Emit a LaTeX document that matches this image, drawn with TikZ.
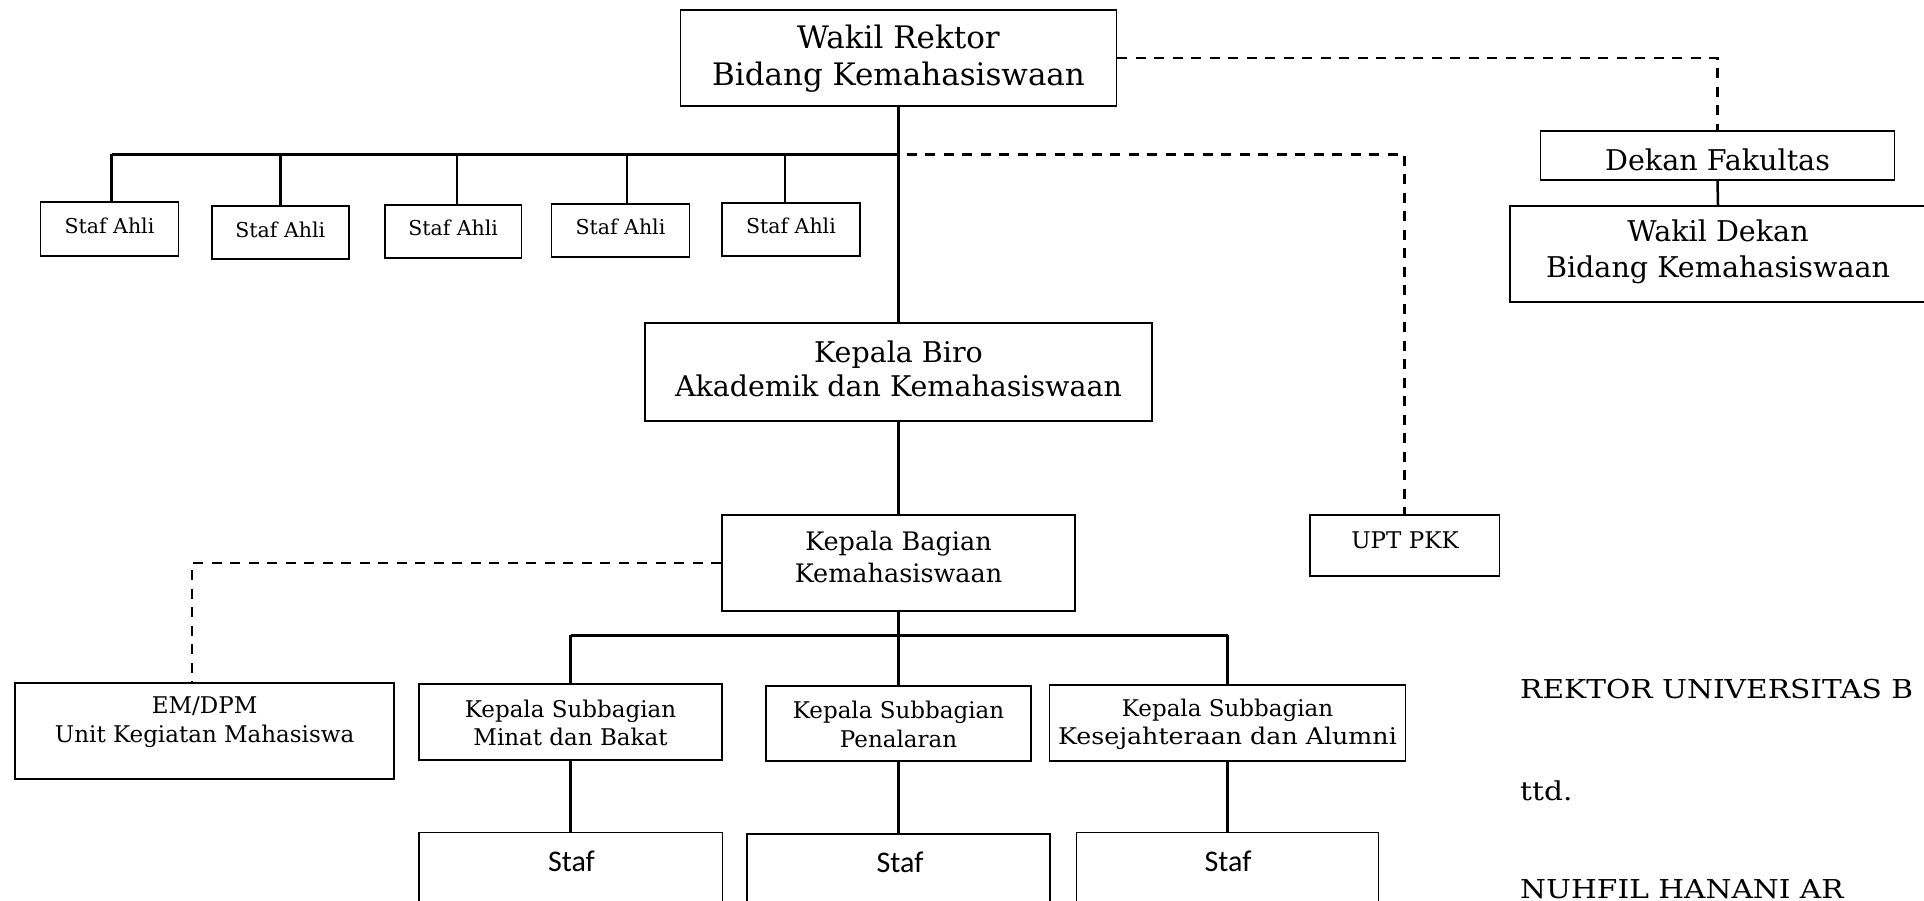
\documentclass[tikz,border=0pt]{standalone}
\usepackage{fontspec}
\setmainfont{DejaVu Serif}
\newfontfamily\stafont{Carlito}
\newfontfamily\widefont[FakeStretch=1.14]{DejaVu Serif}
\begin{document}
\begin{tikzpicture}[x=1pt,y=-1pt,
  box/.style={draw, line width=1.7pt, inner sep=0pt, rectangle},
  txt/.style={align=center, inner sep=0pt},
  ln/.style={line width=2.5pt},
  bar/.style={line width=3pt},
  dsh/.style={line width=2.5pt, dash pattern=on 10pt off 8.5pt},
  fA/.style={font=\fontsize{31}{37}\selectfont},
  fB/.style={font=\fontsize{28.6}{36}\selectfont},
  fC/.style={font=\fontsize{28.5}{34.5}\selectfont},
  fD/.style={font=\fontsize{25.5}{32}\selectfont},
  fE/.style={font=\fontsize{23}{28.5}\selectfont},
  fS/.style={font=\fontsize{20.5}{24}\selectfont},
  fT/.style={font=\stafont\fontsize{30}{36}\selectfont},
  fR/.style={font=\widefont\fontsize{26}{30}\selectfont}]
\clip (0,0) rectangle (1924,901);
\fill[white] (0,0) rectangle (1924,901);

% boxes
\node[box, minimum width=436pt, minimum height=96pt] (wr) at (898.5,58) {};
\node[box, minimum width=138pt, minimum height=54pt] (sa1) at (109.5,229) {};
\node[box, minimum width=137pt, minimum height=53pt] (sa2) at (280.3,232.5) {};
\node[box, minimum width=136.5pt, minimum height=53pt] (sa3) at (453.2,231.5) {};
\node[box, minimum width=138pt, minimum height=53pt] (sa4) at (620.5,230.5) {};
\node[box, minimum width=138pt, minimum height=53pt] (sa5) at (791,229.5) {};
\node[box, minimum width=354pt, minimum height=49.6pt] (dk) at (1717.5,155.5) {};
\node[box, minimum width=416pt, minimum height=96pt] (wd) at (1718,254) {};
\node[box, minimum width=507pt, minimum height=98pt] (kbiro) at (898.5,372) {};
\node[box, minimum width=353pt, minimum height=96pt] (kbag) at (898.5,563) {};
\node[box, minimum width=189.5pt, minimum height=61pt] (upt) at (1404.7,545.5) {};
\node[box, minimum width=378.6pt, minimum height=96pt] (em) at (204.6,730.7) {};
\node[box, minimum width=303pt, minimum height=76pt] (min) at (570.5,722) {};
\node[box, minimum width=264.4pt, minimum height=75.6pt] (pen) at (898.5,723.5) {};
\node[box, minimum width=356pt, minimum height=76pt] (kes) at (1227.5,723) {};
\node[box, minimum width=303.7pt, minimum height=117pt] (st1) at (570.5,891) {};
\node[box, minimum width=302.5pt, minimum height=116pt] (st2) at (898.5,892) {};
\node[box, minimum width=302pt, minimum height=117pt] (st3) at (1227.5,891) {};

% texts
\node[txt, fA] (wr-t) at (898.5,59) {Wakil Rektor\\Bidang Kemahasiswaan};
\node[txt, fS] (sa1-t) at (109.5,226) {Staf Ahli};
\node[txt, fS] (sa2-t) at (280.3,229.5) {Staf Ahli};
\node[txt, fS] (sa3-t) at (453.2,228) {Staf Ahli};
\node[txt, fS] (sa4-t) at (620.5,227) {Staf Ahli};
\node[txt, fS] (sa5-t) at (791,226) {Staf Ahli};
\node[txt, fB] (dk-t) at (1717.5,159.5) {Dekan Fakultas};
\node[txt, fB] (wd-t) at (1718,252) {Wakil Dekan\\Bidang Kemahasiswaan};
\node[txt, fC] (kbiro-t) at (898.5,369) {Kepala Biro\\Akademik dan Kemahasiswaan};
\node[txt, fD] (kbag-t) at (898.5,557) {Kepala Bagian\\Kemahasiswaan};
\node[txt, fE] (upt-t) at (1405,540) {UPT PKK};
\node[txt, fE] (em-t) at (204.6,722) {EM/DPM\\Unit Kegiatan Mahasiswa};
\node[txt, fE] (min-t) at (570.5,723) {Kepala Subbagian\\Minat dan Bakat};
\node[txt, fE] (pen-t) at (898.5,724.5) {Kepala Subbagian\\Penalaran};
\node[txt, fE] (kes-t) at (1227.5,724.5) {Kepala Subbagian\\\scalebox{1.1}[1]{Kesejahteraan dan Alumni}};
\node[txt, fT] (st1-t) at (571.5,861) {Staf};
\node[txt, fT] (st2-t) at (900,862) {Staf};
\node[txt, fT] (st3-t) at (1228,861) {Staf};

\node[anchor=base west, inner sep=0pt, fR] (rek) at (1520,698) {REKTOR UNIVERSITAS B};
\node[anchor=base west, inner sep=0pt, fR] (ttd) at (1520,800) {ttd.};
\node[anchor=base west, inner sep=0pt, fR] (nama) at (1520,898.5) {NUHFIL HANANI AR};

% connectors
\coordinate (j1) at (898.5,154.5);
\coordinate (j2) at (898.5,635);
\coordinate (s1) at ([xshift=2pt]sa1.north);
\coordinate (s3) at ([xshift=4pt]sa3.north);
\coordinate (s4) at ([xshift=6.5pt]sa4.north);
\coordinate (s5) at ([xshift=-6pt]sa5.north);
\coordinate (emtop) at ([xshift=-12.6pt]em.north);
\draw[ln] (wr.south) -- (kbiro.north);
\draw[bar] (j1) -- (j1 -| s1);
\draw[ln] (s1) -- (s1 |- j1);
\draw[ln] (sa2.north) -- (sa2.north |- j1);
\draw[ln] (s3) -- (s3 |- j1);
\draw[ln] (s4) -- (s4 |- j1);
\draw[ln] (s5) -- (s5 |- j1);
\draw[dsh] ([xshift=8pt]j1) -| (upt.north);
\draw[dsh] (wr.east) -| (dk.north);
\draw[ln] (dk.south) -- (wd.north);
\draw[ln] (kbiro.south) -- (kbag.north);
\draw[dsh] (kbag.west) -| (emtop);
\draw[ln] (kbag.south) -- (pen.north);
\draw[bar] (j2 -| min.north) -- (j2 -| kes.north);
\draw[ln] (min.north) -- (min.north |- j2);
\draw[ln] (kes.north) -- (kes.north |- j2);
\draw[ln] (min.south) -- (st1.north);
\draw[ln] (pen.south) -- (st2.north);
\draw[ln] (kes.south) -- (st3.north);
\end{tikzpicture}
\end{document}
